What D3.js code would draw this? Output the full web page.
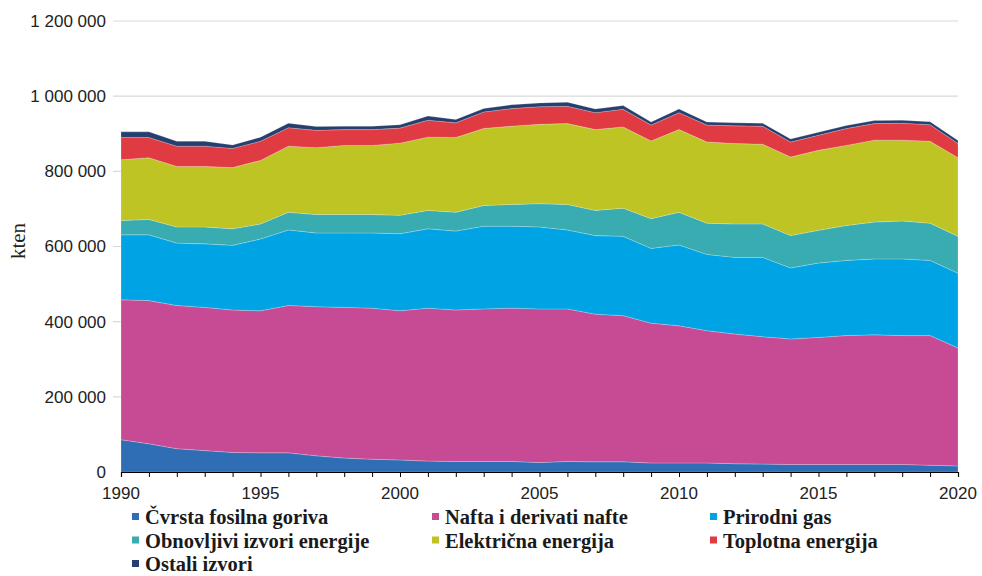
<!DOCTYPE html>
<html>
<head>
<meta charset="utf-8">
<script src="https://cdn.jsdelivr.net/npm/d3@7"></script>
<style>
  html, body { margin: 0; padding: 0; background: #fff; }
  svg { display: block; }
</style>
</head>
<body>
<svg id="chart" width="982" height="576"></svg>
<script>
const years = d3.range(1990, 2021);
const seriesNames = ["Čvrsta fosilna goriva", "Nafta i derivati nafte", "Prirodni gas",
  "Obnovljivi izvori energije", "Električna energija", "Toplotna energija", "Ostali izvori"];
const colors = ["#2f6db5", "#c64b94", "#00a4e4", "#38acb1", "#bdc424", "#e03b43", "#263f6e"];

const cvrsta = [86,75,62,57,52,51,51,43,37,34,32,29,28,28,28,25,28,27,27,24,24,24,22,21,20,20,20,20,20,18,16];
const nafta  = [372,381,381,381,379,378,392,397,401,402,397,407,403,406,408,409,406,393,389,372,365,352,345,339,334,338,343,345,343,345,314];
const gas    = [173,175,166,169,172,191,201,196,198,200,205,211,210,220,218,218,210,209,211,199,215,203,204,211,189,198,200,202,204,200,199];
const obnov  = [38,41,43,45,44,40,47,49,49,49,49,49,50,55,58,62,68,67,75,79,87,83,89,89,86,87,93,98,101,99,98];
const elektr = [162,164,161,161,163,169,176,178,184,184,192,195,199,205,208,211,215,215,216,207,220,216,214,212,209,213,213,218,215,218,209];
const toplot = [59,54,54,54,51,51,49,46,42,42,40,45,39,44,47,47,46,45,47,42,45,45,47,48,40,40,45,44,45,44,38];
const ostali = [15,15,13,13,9,11,12,10,9,9,9,11,9,9,10,10,11,10,10,8,10,8,8,8,8,8,8,8,8,8,8];

const yTicks = [0, 200000, 400000, 600000, 800000, 1000000, 1200000];
const xLabelYears = [1990, 1995, 2000, 2005, 2010, 2015, 2020];

const allSeries = [cvrsta, nafta, gas, obnov, elektr, toplot, ostali];
const table = years.map((y, i) => {
  const row = { year: y };
  seriesNames.forEach((n, k) => { row[n] = allSeries[k][i] * 1000; });
  return row;
});

const svg = d3.select("#chart");
const x = d3.scaleLinear().domain([1990, 2020]).range([121, 958]);
const y = d3.scaleLinear().domain([0, 1200000]).range([472, 21]);
const fmt = d3.formatLocale({ decimal: ",", thousands: " ", grouping: [3], currency: ["", ""] }).format(",d");

// gridlines
svg.append("g").selectAll("line").data(yTicks.filter(d => d > 0)).join("line")
  .attr("x1", 113).attr("x2", 958)
  .attr("y1", d => y(d)).attr("y2", d => y(d))
  .attr("stroke", "#d9d9d9").attr("stroke-width", 1.2);

// y labels
svg.append("g").selectAll("text").data(yTicks).join("text")
  .attr("x", 106).attr("y", d => y(d)).attr("dy", "0.35em")
  .attr("text-anchor", "end")
  .attr("font-family", "Liberation Sans, Arial, sans-serif")
  .attr("font-size", 17).attr("fill", "#222")
  .text(d => fmt(d));

// stacked areas
const stack = d3.stack().keys(seriesNames);
const layers = stack(table);
const area = d3.area()
  .x(d => x(d.data.year))
  .y0(d => y(d[0]))
  .y1(d => y(d[1]));
svg.append("g").selectAll("path").data(layers).join("path")
  .attr("d", area)
  .attr("fill", (d, i) => colors[i])
  .attr("stroke", "rgba(255,255,255,0.35)")
  .attr("stroke-width", 0.6);

// x axis
const xAxis = d3.axisBottom(x).tickValues(years).tickSize(5).tickFormat("");
const gx = svg.append("g").attr("transform", "translate(0,472)").call(xAxis);
gx.select(".domain").attr("stroke", "#000").attr("stroke-width", 1.2);
gx.selectAll(".tick line").attr("stroke", "#000");
svg.append("g").selectAll("text").data(xLabelYears).join("text")
  .attr("x", d => x(d)).attr("y", 499)
  .attr("text-anchor", "middle")
  .attr("font-family", "Liberation Sans, Arial, sans-serif")
  .attr("font-size", 17).attr("fill", "#222")
  .text(d => d);

// y title
svg.append("text")
  .attr("transform", "translate(25,241) rotate(-90)")
  .attr("text-anchor", "middle")
  .attr("font-family", "Liberation Serif, Times New Roman, serif")
  .attr("font-size", 21).attr("fill", "#222")
  .text("kten");

// legend
const legendPos = [[132, 0], [432, 0], [710, 0], [132, 1], [432, 1], [710, 1], [132, 2]];
const lg = svg.append("g");
seriesNames.forEach((n, i) => {
  const [lx, row] = legendPos[i];
  const ly = 524 + row * 23.5;
  lg.append("rect").attr("x", lx).attr("y", ly - 11).attr("width", 7).attr("height", 7).attr("fill", colors[i]);
  lg.append("text").attr("x", lx + 13).attr("y", ly)
    .attr("font-family", "Liberation Serif, Times New Roman, serif")
    .attr("font-weight", "bold").attr("font-size", 20.5).attr("fill", "#1a1a1a")
    .text(n);
});
</script>
</body>
</html>
